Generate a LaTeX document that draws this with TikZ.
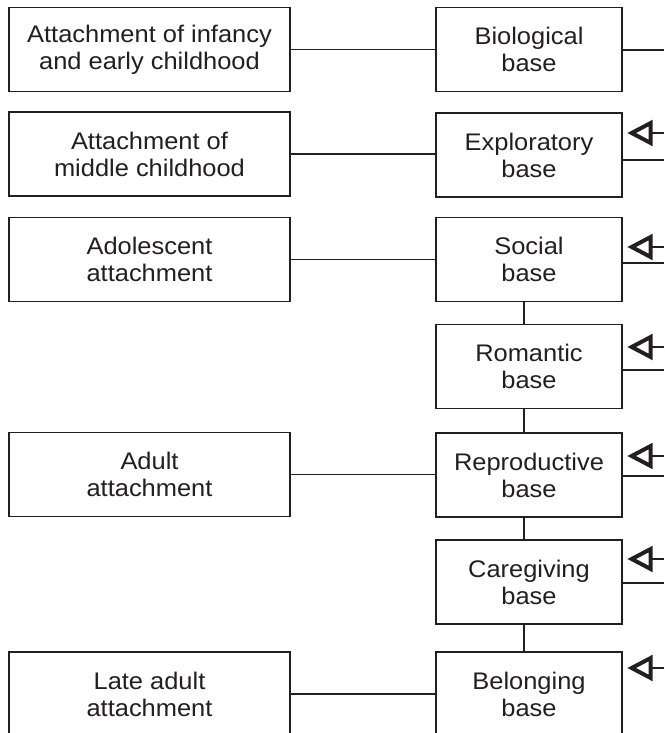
\documentclass[tikz,border=0pt]{standalone}
\usepackage{fontspec}
\setmainfont[FakeStretch=1.06]{Liberation Sans}
\definecolor{ink}{HTML}{231F20}
\begin{document}
\begin{tikzpicture}[x=1pt,y=-1pt,
  line width=1.4pt, draw=ink,
  box/.style={draw=ink, fill=white, align=center, text=ink, inner sep=0pt,
    font=\fontsize{24}{27}\selectfont},
  lbox/.style={box, minimum width=281pt, minimum height=84pt},
  rbox/.style={box, minimum width=186pt, minimum height=84pt},
  link/.style={draw=ink, line width=1.4pt},
  opentip/.style={draw=ink, fill=white, line width=4pt, line join=miter}]
\useasboundingbox (0,0) rectangle (664,733);
\begin{scope}
\clip (0,0) rectangle (664,733);
% stages of attachment (left column)
\node[lbox] (l1) at (149.5,49.5) {Attachment of infancy\\and early childhood};
\node[lbox] (l2) at (149.5,154) {Attachment of\\middle childhood};
\node[lbox] (l3) at (149.5,259.5) {Adolescent\\attachment};
\node[lbox] (l5) at (149.5,474.5) {Adult\\attachment};
\node[lbox] (l7) at (149.5,694) {Late adult\\attachment};
% secure bases (right column)
\node[rbox] (b1) at (529,49.5) {Biological\\base};
\node[rbox] (b2) at (529,155) {Exploratory\\base};
\node[rbox] (b3) at (529,259.5) {Social\\base};
\node[rbox] (b4) at (529,366.5) {Romantic\\base};
\node[rbox] (b5) at (529,475) {Reproductive\\base};
\node[rbox] (b6) at (529,582) {Caregiving\\base};
\node[rbox] (b7) at (529,694) {Belonging\\base};
% stage to base
\foreach \i in {1,2,3,5,7}
  \draw[link] (l\i.east) -- (l\i.east -| b\i.west);
% chain of bases
\foreach \i/\j in {3/4,4/5,5/6,6/7}
  \draw[link] ([xshift=-5pt]b\i.south) -- ([xshift=-5pt]b\j.north);
% outgoing lines on the right
\coordinate (o1) at (664,50);
\coordinate (o2) at (664,160);
\coordinate (o3) at (664,263);
\coordinate (o4) at (664,370);
\coordinate (o5) at (664,476);
\coordinate (o6) at (664,583);
\foreach \i in {1,...,6}
  \draw[link] (o\i -| b\i.east) -- (o\i);
% incoming arrows on the right: line plus open triangular head
\coordinate (i2) at (664,133);
\coordinate (i3) at (664,247);
\coordinate (i4) at (664,347);
\coordinate (i5) at (664,456);
\coordinate (i6) at (664,559);
\coordinate (i7) at (664,668);
\foreach \i in {2,...,7}{
  \draw[link] (i\i) -- ([xshift=26pt]i\i -| b\i.east);
  \draw[opentip] ([xshift=9pt]i\i -| b\i.east) -- ++(19,-10) -- ++(0,20) -- cycle;
}
\end{scope}
\end{tikzpicture}
\end{document}
